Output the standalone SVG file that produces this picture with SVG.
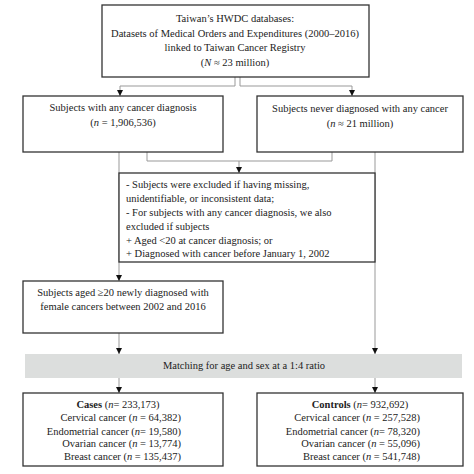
<svg xmlns="http://www.w3.org/2000/svg" width="474" height="474" viewBox="0 0 474 474">
<style>
text{font-family:"Liberation Serif","Times New Roman",serif;font-size:10.5px;fill:#222}
.box{fill:#fff;stroke:#333;stroke-width:1.3}
.c{fill:none;stroke:#999;stroke-width:1}
.m{text-anchor:middle}
.e{text-anchor:end}
</style>
<defs>
<marker id="a" viewBox="0 0 10 10" refX="10" refY="5" markerWidth="6" markerHeight="6" markerUnits="userSpaceOnUse" orient="auto">
<path d="M0,0L10,5L0,10z" fill="#111"/>
</marker>
</defs>
<rect width="474" height="474" fill="#fff"/>
<g id="connectors">
<path class="c" d="M235,77V86H120V96" marker-end="url(#a)"/>
<path class="c" d="M240,77V86H352V96" marker-end="url(#a)"/>
<path class="c" d="M147,152V161H332V152"/>
<path class="c" d="M239,161V173" marker-end="url(#a)"/>
<path class="c" d="M119,152V281" marker-end="url(#a)"/>
<path class="c" d="M375,152V354" marker-end="url(#a)"/>
<path class="c" d="M119,333V354" marker-end="url(#a)"/>
<path class="c" d="M119,378V393" marker-end="url(#a)"/>
<path class="c" d="M375,378V393" marker-end="url(#a)"/>
</g>
<g id="top">
<rect class="box" x="102" y="5" width="267" height="72"/>
<text class="m" x="235" y="22">Taiwan’s HWDC databases:</text>
<text class="m" x="235" y="37">Datasets of Medical Orders and Expenditures (2000–2016)</text>
<text class="m" x="235" y="51">linked to Taiwan Cancer Registry</text>
<text class="m" x="235" y="66">(<tspan font-style="italic">N</tspan> ≈ 23 million)</text>
</g>
<g id="any-cancer">
<rect class="box" x="23" y="96" width="200" height="56"/>
<text class="m" x="123" y="111">Subjects with any cancer diagnosis</text>
<text class="m" x="123" y="126">(<tspan font-style="italic">n</tspan> = 1,906,536)</text>
</g>
<g id="never">
<rect class="box" x="257" y="96" width="206" height="56"/>
<text class="m" x="360" y="112">Subjects never diagnosed with any cancer</text>
<text class="m" x="360" y="127">(<tspan font-style="italic">n</tspan> ≈ 21 million)</text>
</g>
<g id="exclusion">
<rect class="box" x="119" y="173" width="256" height="89"/>
<text x="126" y="188">- Subjects were excluded if having missing,</text>
<text x="126" y="202">unidentifiable, or inconsistent data;</text>
<text x="126" y="216">- For subjects with any cancer diagnosis, we also</text>
<text x="126" y="230">excluded if subjects</text>
<text x="126" y="244">+ Aged &lt;20 at cancer diagnosis; or</text>
<text x="126" y="257">+ Diagnosed with cancer before January 1, 2002</text>
</g>
<g id="aged">
<rect class="box" x="23" y="281" width="200" height="52"/>
<text class="m" x="123" y="296">Subjects aged ≥20 newly diagnosed with</text>
<text class="m" x="123" y="310">female cancers between 2002 and 2016</text>
</g>
<g id="matching">
<rect x="25" y="354" width="437" height="24" fill="#dcdedd"/>
<text class="m" x="244" y="369">Matching for age and sex at a 1:4 ratio</text>
</g>
<g id="cases">
<rect class="box" x="23" y="393" width="200" height="73"/>
<text class="m" x="118" y="408"><tspan font-weight="bold">Cases</tspan> (<tspan font-style="italic">n</tspan>= 233,173)</text>
<text class="e" x="181" y="421">Cervical cancer (<tspan font-style="italic">n</tspan> = 64,382)</text>
<text class="e" x="181" y="435">Endometrial cancer (<tspan font-style="italic">n</tspan>= 19,580)</text>
<text class="e" x="181" y="447">Ovarian cancer (<tspan font-style="italic">n</tspan> = 13,774)</text>
<text class="e" x="181" y="460">Breast cancer (<tspan font-style="italic">n</tspan> = 135,437)</text>
</g>
<g id="controls">
<rect class="box" x="257" y="393" width="206" height="73"/>
<text class="m" x="360" y="408"><tspan font-weight="bold">Controls</tspan> (<tspan font-style="italic">n</tspan>= 932,692)</text>
<text class="e" x="420" y="421">Cervical cancer (<tspan font-style="italic">n</tspan> = 257,528)</text>
<text class="e" x="420" y="435">Endometrial cancer (<tspan font-style="italic">n</tspan>= 78,320)</text>
<text class="e" x="420" y="447">Ovarian cancer (<tspan font-style="italic">n</tspan> = 55,096)</text>
<text class="e" x="420" y="460">Breast cancer (<tspan font-style="italic">n</tspan> = 541,748)</text>
</g>
</svg>
